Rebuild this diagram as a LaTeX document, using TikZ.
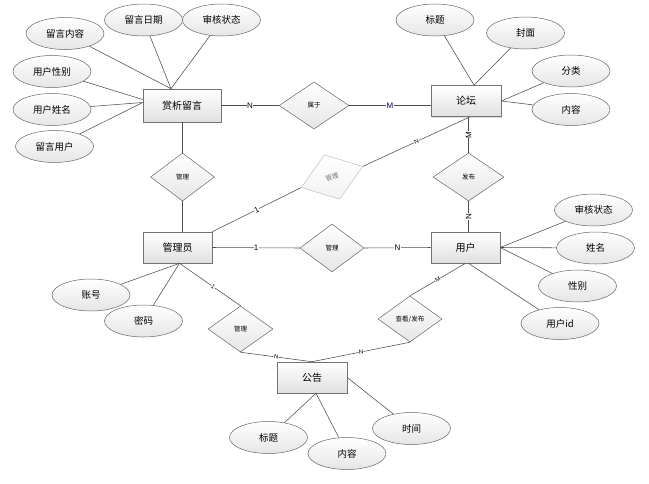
\documentclass[tikz,border=0pt]{standalone}
\usepackage{fontspec}
\setmainfont{Noto Sans CJK SC}
\newfontfamily\latinf{Liberation Sans}
\usetikzlibrary{shapes.geometric,shadows}
\begin{document}
\begin{tikzpicture}[x=1pt,y=-1pt,
 ent/.style={draw=black!55, line width=0.6pt, top color=white, bottom color=black!12, minimum width=70pt, minimum height=31pt, inner sep=0pt, font=\fontsize{10}{12}\selectfont, drop shadow={shadow xshift=1pt,shadow yshift=-1pt,opacity=0.25}},
 attr/.style={ellipse, draw=black!60, line width=0.5pt, top color=white, bottom color=black!10, minimum width=78pt, minimum height=32pt, inner sep=0pt, font=\fontsize{9.5}{11}\selectfont},
 rel/.style={diamond, draw=black!60, line width=0.5pt, top color=white, bottom color=black!10, minimum width=64pt, minimum height=48pt, inner sep=0pt, font=\fontsize{6.5}{8}\selectfont},
 ln/.style={draw=black!70, line width=0.55pt},
 card/.style={font=\latinf\fontsize{8}{9}\selectfont, fill=white, inner sep=0.3pt},
 cards/.style={font=\latinf\fontsize{6}{7}\selectfont, fill=white, inner sep=0.3pt},
]
\path[use as bounding box] (0,0) rectangle (649,483);

% entities
\node[ent, minimum width=78pt, minimum height=33pt] (xs) at (182,105.5) {赏析留言};
\node[ent] (lt) at (466,101) {论坛};
\node[ent, minimum width=69pt] (gly) at (177.5,247.5) {管理员};
\node[ent, minimum width=69pt] (yh) at (465.5,247.5) {用户};
\node[ent] (gg) at (312,377.5) {公告};

% relations
\node[rel, minimum width=70pt, minimum height=47pt] (sy) at (314,105.5) {属于};
\node[rel] (r1) at (182.5,177) {管理};
\node[rel, draw=black!25, top color=white, bottom color=black!5, text=black!55, rotate=19, minimum width=65pt, minimum height=47pt] (r2) at (332,177) {管理};
\node[rel, minimum width=71pt] (fb) at (468.5,177) {发布};
\node[rel] (r3) at (332,248) {管理};
\node[rel, minimum width=65pt, minimum height=46pt] (r4) at (240.5,329) {管理};
\node[rel, minimum width=64pt, minimum height=46pt] (ck) at (410,319) {查看/发布};

% attributes
\node[attr] (a1) at (65,33.5) {留言内容};
\node[attr] (a2) at (143.5,20) {留言日期};
\node[attr] (a3) at (221.5,20) {审核状态};
\node[attr] (a4) at (52,71.5) {用户性别};
\node[attr] (a5) at (52,109.5) {用户姓名};
\node[attr] (a6) at (54.5,146.5) {留言用户};
\node[attr] (b1) at (435,20) {标题};
\node[attr] (b2) at (525.5,33) {封面};
\node[attr] (b3) at (571,71) {分类};
\node[attr] (b4) at (571,109.5) {内容};
\node[attr] (c1) at (593.5,210) {审核状态};
\node[attr] (c2) at (595.5,248) {姓名};
\node[attr] (c3) at (577.5,286) {性别};
\node[attr] (c4) at (560,323.5) {用户id};
\node[attr] (d1) at (91,295) {账号};
\node[attr] (d2) at (143.5,321) {密码};
\node[attr] (e1) at (268.5,437.5) {标题};
\node[attr] (e2) at (347,453.5) {内容};
\node[attr] (e3) at (411.5,428.5) {时间};

% attribute links
\draw[ln] (a1) -- ([xshift=-11pt]xs.north);
\draw[ln] (a2) -- ([xshift=-11pt]xs.north);
\draw[ln] (a3) -- ([xshift=-11pt]xs.north);
\draw[ln] (a4) -- ([yshift=6pt]xs.west);
\draw[ln] (a5) -- ([yshift=3pt]xs.west);
\draw[ln] (a6) -- ([yshift=3pt]xs.west);
\draw[ln] (b1) -- ([xshift=8pt]lt.north);
\draw[ln] (b2) -- ([xshift=8pt]lt.north);
\draw[ln] (b3) -- (lt.east);
\draw[ln] (b4) -- (lt.east);
\draw[ln] (c1) -- (yh.east);
\draw[ln] (c2) -- (yh.east);
\draw[ln] (c3) -- (yh.east);
\draw[ln] (c4) -- ([xshift=3pt]yh.south);
\draw[ln] (d1) -- ([xshift=2pt]gly.south);
\draw[ln] (d2) -- ([xshift=2pt]gly.south);
\draw[ln] (e1) -- ([xshift=4pt]gg.south);
\draw[ln] (e2) -- ([xshift=4pt]gg.south);
\draw[ln] (e3) -- (gg.east);

% relationship links
\draw[ln] (xs.east) -- node[card]{N} (sy.west);
\draw[ln] (sy.east) -- node[card, text=blue!40!black]{M} (sy.east -| lt.west);
\draw[ln] (fb.north) -- node[card, rotate=90]{M} (fb.north |- lt.south);
\draw[ln] (fb.south) -- node[card, rotate=90]{N} (fb.south |- yh.north);
\draw[ln] ([xshift=4pt]lt.south) -- node[cards, sloped]{N} (r2.east);
\draw[ln] (r2.west) -- node[card, sloped]{1} (gly.north east);
\draw[ln] (xs.south -| r1.north) -- (r1.north);
\draw[ln] (r1.south) -- (r1.south |- gly.north);
\draw[ln] (gly.east) -- node[card]{1} (r3.west);
\draw[ln] (r3.east) -- node[card]{N} (yh.west);
\draw[ln] (yh.south) -- node[cards, sloped]{M} (ck.north);
\draw[ln] (ck.south) -- node[cards, sloped]{N} (gg.north);
\draw[ln] ([xshift=2pt]gly.south) -- node[cards, sloped, pos=0.55]{1} (r4.north);
\draw[ln] (r4.south) -- node[cards, sloped]{N} (gg.north);
\end{tikzpicture}
\end{document}
